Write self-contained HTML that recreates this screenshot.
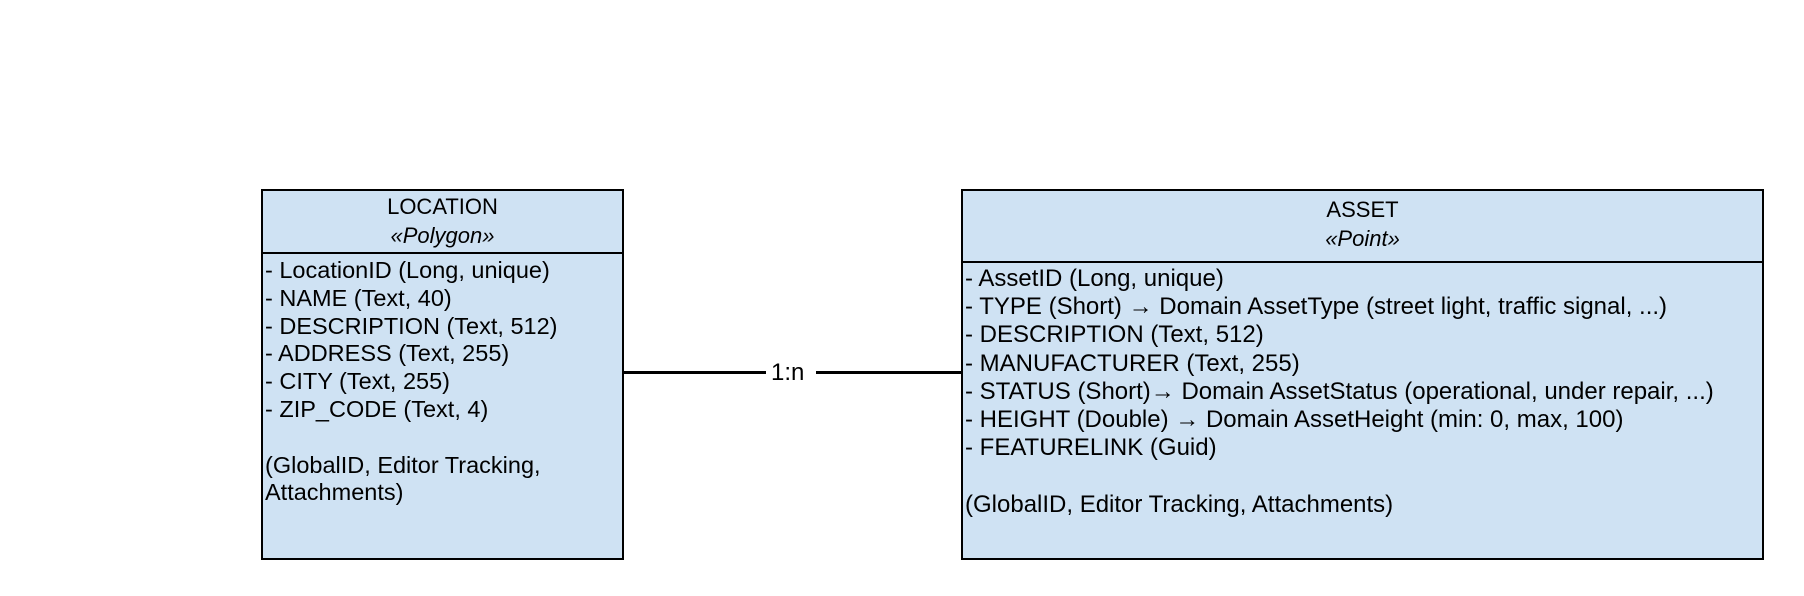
<!DOCTYPE html>
<html><head><meta charset="utf-8"><style>
body{margin:0;width:1804px;height:596px;background:#fff;position:relative;overflow:hidden;font-family:"Liberation Sans",sans-serif;color:#000}
.box{position:absolute;background:#cfe2f3;border:2.5px solid #000;box-sizing:border-box}
.sep{position:absolute;left:0;right:0;border-top:2.5px solid #000}
.t{position:absolute;font-size:23.5px;white-space:pre;line-height:24px}
.c{left:0;right:0;text-align:center}
.line{position:absolute;height:3px;background:#000}
</style></head><body>
<div class="box" style="left:261px;top:189px;width:363px;height:371px">
  <div class="sep" style="top:61px"></div>
  <div class="t c" style="top:4px;font-size:22px">LOCATION</div>
  <div class="t c" style="top:33px;font-style:italic;font-size:22px">«Polygon»</div>
  <div class="t" style="left:2px;top:66px;line-height:27.8px;letter-spacing:0px">- LocationID (Long, unique)
- NAME (Text, 40)
- DESCRIPTION (Text, 512)
- ADDRESS (Text, 255)
- CITY (Text, 255)
- ZIP_CODE (Text, 4)

(GlobalID, Editor Tracking,
Attachments)</div>
</div>
<div class="box" style="left:961px;top:189px;width:803px;height:371px">
  <div class="sep" style="top:70px"></div>
  <div class="t c" style="top:7px;font-size:22px">ASSET</div>
  <div class="t c" style="top:36px;font-style:italic;font-size:22px">«Point»</div>
  <div class="t" style="left:2px;top:74px;line-height:28.2px;font-size:24px;letter-spacing:0px">- AssetID (Long, unique)
- TYPE (Short) → Domain AssetType (street light, traffic signal, ...)
- DESCRIPTION (Text, 512)
- MANUFACTURER (Text, 255)
- STATUS (Short)→ Domain AssetStatus (operational, under repair, ...)
- HEIGHT (Double) → Domain AssetHeight (min: 0, max, 100)
- FEATURELINK (Guid)

(GlobalID, Editor Tracking, Attachments)</div>
</div>
<div class="line" style="left:623px;top:371px;width:143px"></div>
<div class="line" style="left:816px;top:371px;width:146px"></div>
<div class="t" style="left:771px;top:361px;font-size:24px">1:n</div>
</body></html>
